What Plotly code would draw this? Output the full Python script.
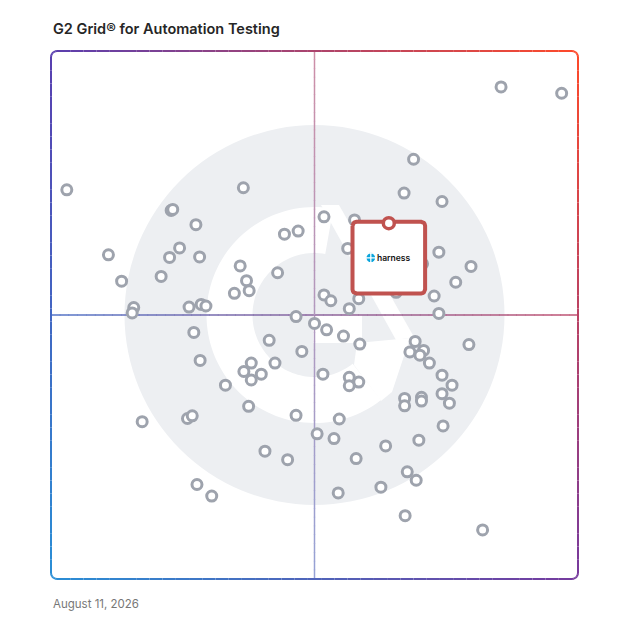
import numpy as np
import plotly.graph_objects as go

# positions of the products on the grid, 0-100 on both axes
# (x = market presence, y = satisfaction)
market_presence = [
    3.0, 36.5, 22.8, 23.1, 27.5, 10.9, 24.4, 22.5, 28.2, 44.3, 46.9, 35.9,
    43.0, 13.4, 20.9, 37.1, 37.6, 34.8, 15.7, 15.4, 26.2, 28.5, 29.4,
    85.4, 96.9, 68.8, 67.0, 74.2, 51.8, 57.6, 56.3, 73.6, 79.7, 76.8, 70.5,
    51.8, 53.1, 58.4, 56.6, 65.5, 72.7, 73.6,
    46.5, 50.0, 27.1, 41.4, 47.6, 28.3, 38.0, 36.6, 39.9, 38.0, 42.5, 33.1,
    37.5, 46.5, 17.3, 25.9, 26.8, 50.5, 40.6, 44.9, 27.7, 30.5,
    52.3, 55.5, 58.6, 79.3, 69.1, 68.1, 70.7, 70.0, 71.8, 74.2, 76.1, 74.2,
    75.6, 51.6, 56.6, 58.4, 56.6, 67.1, 67.1, 70.3, 70.3, 54.7, 53.7, 63.5,
    69.8, 74.4, 57.9, 67.6, 69.3, 62.6, 54.5, 67.2, 81.9,
]
satisfaction = [
    73.7, 74.1, 69.8, 70.0, 67.1, 61.4, 62.7, 60.9, 61.0, 65.3, 65.9, 59.3,
    58.0, 56.4, 57.3, 56.5, 54.6, 54.1, 51.4, 50.4, 51.5, 52.0, 51.7,
    93.2, 92.0, 79.5, 73.1, 71.5, 68.6, 68.0, 62.6, 61.9, 59.2, 56.2, 59.7,
    53.8, 52.7, 53.1, 51.2, 54.3, 53.6, 50.3,
    49.7, 48.4, 46.7, 45.2, 43.1, 41.4, 40.9, 39.3, 38.8, 37.7, 40.9, 36.7,
    32.7, 31.0, 29.8, 30.4, 30.9, 27.5, 24.2, 22.6, 17.9, 15.7,
    47.2, 46.0, 44.5, 44.4, 45.0, 43.0, 43.3, 42.4, 40.9, 38.6, 36.7, 35.1,
    33.3, 38.8, 38.2, 37.3, 36.6, 34.2, 32.8, 34.4, 33.7, 30.3, 26.6, 25.2,
    26.3, 29.0, 22.8, 20.3, 18.7, 17.4, 16.3, 12.0, 9.3,
]

harness_x = 64.1
harness_y = 67.4
harness_name = "harness"

title_text = "G2 Grid® for Automation Testing"
date_text = "August 11, 2026"

# plot area is 527 x 528 px, helpers to turn pixel sizes into axis units
W, H = 527, 528
def dx(p):
    return p * 100 / W
def dy(p):
    return p * 100 / H
def px(x, y):
    # page pixel -> axis units
    return (x - 51) * 100 / W, (579 - y) * 100 / H

def path_of(points):
    s = "M " + " L ".join(f"{a:.3f},{b:.3f}" for a, b in points)
    return s + " Z"

# ---- G2 watermark
wm_gray = "#edeff2"
shapes = []
shapes.append(dict(type="circle", xref="x", yref="y", layer="below",
                   x0=50 - dx(190), x1=50 + dx(190), y0=50 - dy(190), y1=50 + dy(190),
                   fillcolor=wm_gray, line_width=0))

ang = np.radians(np.linspace(80, 308, 90))
g_arc = [(50 + dx(108) * np.cos(a), 50 + dy(108) * np.sin(a)) for a in ang]
g_arc += [(50 + dx(62) * np.cos(a), 50 + dy(62) * np.sin(a)) for a in ang[::-1]]
white_bits = [
    g_arc,
    [px(313, 315), px(362, 315), px(362, 343), px(313, 343)],
    [px(321, 205), px(339, 205), px(414, 337), px(396, 340)],
    [px(357, 343), px(410, 338), px(392, 392), px(381, 401), px(354, 365)],
]
for pts in white_bits:
    shapes.append(dict(type="path", xref="x", yref="y", layer="below",
                       path=path_of(pts), fillcolor="white", line_width=0))

# ---- gradient colours for the frame and the quadrant lines
TL = np.array([90, 63, 176])
TR = np.array([255, 74, 42])
BL = np.array([42, 143, 214])
BR = np.array([118, 58, 158])
def grad(u, v, alpha=1.0):
    top = TL * (1 - u) + TR * u
    bot = BL * (1 - u) + BR * u
    c = bot * (1 - v) + top * v
    c = c * alpha + 255 * (1 - alpha)
    return "rgb(%d,%d,%d)" % tuple(c.astype(int))

# quadrant lines (axis units so they sit above the watermark)
n = 60
for i in range(n):
    u0, u1 = i / n, (i + 1) / n
    shapes.append(dict(type="line", xref="x", yref="y", layer="below",
                       x0=100 * u0, x1=100 * u1 + 0.1, y0=50, y1=50,
                       line=dict(color=grad((u0 + u1) / 2, 0.5, 0.9), width=1.5)))
    shapes.append(dict(type="line", xref="x", yref="y", layer="below",
                       x0=50, x1=50, y0=100 * u0, y1=100 * u1 + 0.1,
                       line=dict(color=grad(0.5, (u0 + u1) / 2, 0.6), width=1.5)))

# rounded frame
rx, ry = 6 / W, 6 / H
frame = []
def corner(cx, cy, a0, a1):
    for a in np.radians(np.linspace(a0, a1, 6)):
        frame.append((cx + rx * np.cos(a), cy + ry * np.sin(a)))
for t in np.linspace(rx, 1 - rx, 40):
    frame.append((t, 1.0))
corner(1 - rx, 1 - ry, 90, 0)
for t in np.linspace(1 - ry, ry, 40):
    frame.append((1.0, t))
corner(1 - rx, ry, 0, -90)
for t in np.linspace(1 - rx, rx, 40):
    frame.append((t, 0.0))
corner(rx, ry, 270, 180)
for t in np.linspace(ry, 1 - ry, 40):
    frame.append((0.0, t))
corner(rx, 1 - ry, 180, 90)
frame.append(frame[0])
for (a, b), (c, d) in zip(frame[:-1], frame[1:]):
    shapes.append(dict(type="line", xref="paper", yref="paper", layer="above",
                       x0=a, y0=b, x1=c, y1=d,
                       line=dict(color=grad((a + c) / 2, (b + d) / 2), width=2)))

fig = go.Figure()
fig.add_trace(go.Scatter(
    x=market_presence, y=satisfaction, mode="markers", hoverinfo="skip",
    marker=dict(size=10, color="white", line=dict(color="#9ea3ad", width=3)),
))

# highlighted product card
box_col = "#c0524f"
left, right = harness_x - dx(36.3), harness_x + dx(36.3)
top = harness_y + dy(1.3)
bottom = top - dy(71.6)
r_x, r_y = dx(4), dy(4)
card = []
for cx, cy, a0, a1 in [(left + r_x, top - r_y, 180, 90), (right - r_x, top - r_y, 90, 0),
                       (right - r_x, bottom + r_y, 0, -90), (left + r_x, bottom + r_y, 270, 180)]:
    for a in np.radians(np.linspace(a0, a1, 7)):
        card.append((cx + r_x * np.cos(a), cy + r_y * np.sin(a)))
card.append(card[0])
fig.add_trace(go.Scatter(
    x=[p[0] for p in card], y=[p[1] for p in card], mode="lines", fill="toself",
    fillcolor="white", line=dict(color=box_col, width=4), hoverinfo="skip",
))
fig.add_trace(go.Scatter(
    x=[harness_x], y=[harness_y], mode="markers", hoverinfo="skip",
    marker=dict(size=11, color="white", line=dict(color=box_col, width=3.5)),
))
fig.add_trace(go.Scatter(
    x=[harness_x - dx(18)], y=[harness_y - dy(34.7)], mode="markers", hoverinfo="skip",
    marker=dict(symbol="circle-cross", size=10, color="#0aa5dc",
                line=dict(color="white", width=1.3)),
))

font = "Inter, Roboto, sans-serif"
annotations = [
    dict(x=harness_x - dx(13.5), y=harness_y - dy(34.7), xref="x", yref="y",
         xanchor="left", text=harness_name, showarrow=False,
         font=dict(family=font, size=8.5, color="#111111", weight=600)),
    dict(x=0, y=(579 - 29) / H, xref="paper", yref="paper", xanchor="left",
         yanchor="middle", text=title_text, showarrow=False,
         font=dict(family=font, size=14.5, color="#262626", weight=600)),
    dict(x=0, y=(579 - 604) / H, xref="paper", yref="paper", xanchor="left",
         yanchor="middle", text=date_text, showarrow=False,
         font=dict(family=font, size=11.5, color="#777777")),
]

fig.update_xaxes(range=[0, 100], visible=False, fixedrange=True)
fig.update_yaxes(range=[0, 100], visible=False, fixedrange=True)
# the page adds an 8px body margin, so the figure is 620 px and shifted margins
fig.update_layout(
    width=620, height=620,
    margin=dict(l=43, r=50, t=43, b=49),
    paper_bgcolor="white", plot_bgcolor="white",
    showlegend=False,
    shapes=shapes, annotations=annotations,
)

fig.write_html("out.html")
